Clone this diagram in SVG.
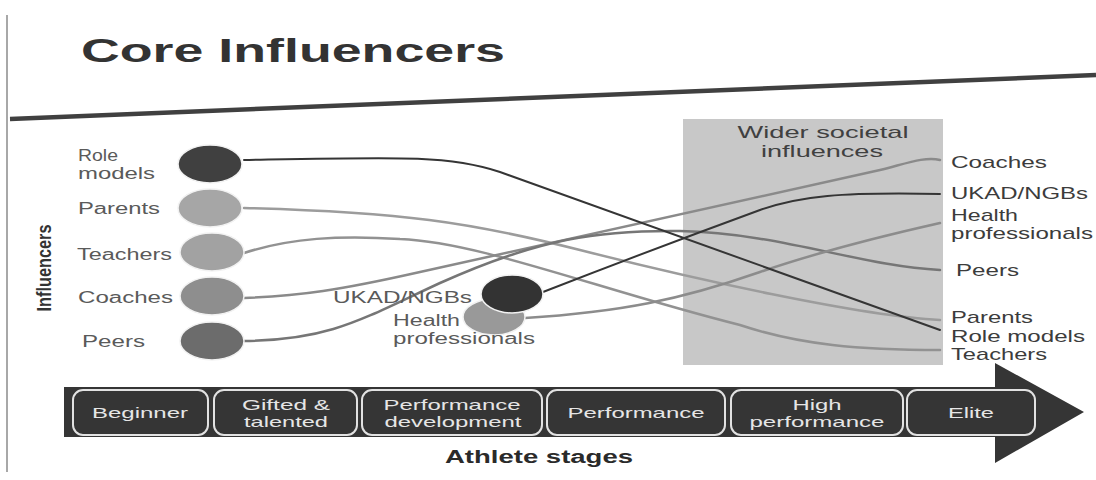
<svg xmlns="http://www.w3.org/2000/svg" width="1096" height="480" viewBox="0 0 1096 480">
  <style>
    text { font-family: "Liberation Sans", Arial, sans-serif; }
    .lbl { font-size: 16px; fill: #5a5a5a; }
    .rlbl { font-size: 17px; fill: #3c3c3c; }
    .mid { font-size: 16px; fill: #5a5a5a; }
    .stage { font-size: 15px; fill: #e6e6e6; text-anchor: middle; }
    .stagebox { fill: #353535; stroke: #e2e2e2; stroke-width: 2; }
    .link { fill: none; stroke-width: 2.5; stroke-linecap: round; }
    .dark { stroke: #353535; stroke-width: 2; }
    .node { stroke: #f2f2f2; stroke-width: 1.5; }
  </style>

  <!-- page frame and header rule -->
  <line x1="7" y1="15" x2="7" y2="472" stroke="#a8a8a8" stroke-width="2"/>
  <text x="81" y="62" font-size="33" font-weight="bold" fill="#333" textLength="424" lengthAdjust="spacingAndGlyphs">Core Influencers</text>
  <line x1="10" y1="119" x2="1096" y2="75" stroke="#404040" stroke-width="4.5"/>

  <!-- wider societal influences panel -->
  <g id="wider-societal">
    <rect x="683" y="119" width="260" height="246" fill="#c8c8c8"/>
    <text x="823" y="138" font-size="17" fill="#404040" text-anchor="middle" textLength="171" lengthAdjust="spacingAndGlyphs">Wider societal</text>
    <text x="822" y="157" font-size="17" fill="#404040" text-anchor="middle" textLength="122" lengthAdjust="spacingAndGlyphs">influences</text>
  </g>

  <!-- axis label -->
  <text transform="translate(51,268) rotate(-90)" font-size="21" font-weight="bold" fill="#333" text-anchor="middle" textLength="87" lengthAdjust="spacingAndGlyphs">Influencers</text>

  <!-- connectors -->
  <g id="connectors">
    <path class="link" stroke="#9c9c9c" d="M244,208 C400,212 470,222 580,250 S860,316 940,320"/>
    <path class="link" stroke="#929292" d="M244,253 C290,238 340,235 400,239 C480,242 600,290 740,325 C800,345 860,350 940,350"/>
    <path class="link" stroke="#8a8a8a" d="M244,298 C300,296 340,290 420,272 L880,170 C905,164 925,156 940,160"/>
    <path class="link" stroke="#767676" d="M244,341 C330,340 360,320 440,283 C540,238 600,230 680,231 C780,233 860,266 940,270"/>
    <path class="link" stroke="#8c8c8c" d="M525,318 C620,312 680,300 760,272 C830,248 900,232 940,223"/>
    <path class="link dark" d="M244,160 C400,157 450,155 500,172 L940,330"/>
    <path class="link dark" d="M543,292 C620,262 700,232 760,210 C800,196 840,192 940,194"/>
  </g>

  <!-- core influencers (left) -->
  <g id="role-models">
    <ellipse class="node" cx="210" cy="164" rx="32" ry="19" fill="#404040"/>
    <text class="lbl" x="78" y="161" textLength="40" lengthAdjust="spacingAndGlyphs">Role</text>
    <text class="lbl" x="78" y="179" textLength="77" lengthAdjust="spacingAndGlyphs">models</text>
  </g>
  <g id="parents">
    <ellipse class="node" cx="210" cy="208" rx="32" ry="19" fill="#a6a6a6"/>
    <text class="lbl" x="78" y="214" textLength="82" lengthAdjust="spacingAndGlyphs">Parents</text>
  </g>
  <g id="teachers">
    <ellipse class="node" cx="212" cy="252" rx="32" ry="19" fill="#a2a2a2"/>
    <text class="lbl" x="77" y="260" textLength="95" lengthAdjust="spacingAndGlyphs">Teachers</text>
  </g>
  <g id="coaches">
    <ellipse class="node" cx="212" cy="296" rx="32" ry="19" fill="#8e8e8e"/>
    <text class="lbl" x="78" y="303" textLength="95" lengthAdjust="spacingAndGlyphs">Coaches</text>
  </g>
  <g id="peers">
    <ellipse class="node" cx="212" cy="341" rx="32" ry="19" fill="#6c6c6c"/>
    <text class="lbl" x="82" y="347" textLength="63" lengthAdjust="spacingAndGlyphs">Peers</text>
  </g>

  <!-- later-stage influencers (middle) -->
  <g id="ukad-ngbs">
    <text class="mid" x="333" y="303" textLength="139" lengthAdjust="spacingAndGlyphs">UKAD/NGBs</text>
  </g>
  <g id="health-professionals">
    <ellipse class="node" cx="494" cy="317" rx="31" ry="18" fill="#999999"/>
    <text class="mid" x="393" y="326" textLength="67" lengthAdjust="spacingAndGlyphs">Health</text>
    <text class="mid" x="393" y="344" textLength="142" lengthAdjust="spacingAndGlyphs">professionals</text>
  </g>
  <ellipse class="node" cx="512" cy="294" rx="31" ry="19" fill="#333333"/>

  <!-- influence ranking at elite level (right) -->
  <g id="right-labels">
    <text class="rlbl" x="951" y="168" textLength="96" lengthAdjust="spacingAndGlyphs">Coaches</text>
    <text class="rlbl" x="951" y="199" textLength="137" lengthAdjust="spacingAndGlyphs">UKAD/NGBs</text>
    <text class="rlbl" x="951" y="221" textLength="67" lengthAdjust="spacingAndGlyphs">Health</text>
    <text class="rlbl" x="951" y="239" textLength="142" lengthAdjust="spacingAndGlyphs">professionals</text>
    <text class="rlbl" x="956" y="276" textLength="63" lengthAdjust="spacingAndGlyphs">Peers</text>
    <text class="rlbl" x="951" y="323" textLength="82" lengthAdjust="spacingAndGlyphs">Parents</text>
    <text class="rlbl" x="951" y="342" textLength="134" lengthAdjust="spacingAndGlyphs">Role models</text>
    <text class="rlbl" x="951" y="360" textLength="96" lengthAdjust="spacingAndGlyphs">Teachers</text>
  </g>

  <!-- athlete stages arrow -->
  <g id="stages-arrow">
    <path d="M64,387 H995 V363 L1084,412 L995,463 V437 H64 Z" fill="#353535"/>
  </g>
  <g id="stage-beginner">
    <rect class="stagebox" x="73" y="390" width="135" height="45" rx="10"/>
    <text class="stage" x="140" y="418" textLength="96" lengthAdjust="spacingAndGlyphs">Beginner</text>
  </g>
  <g id="stage-gifted">
    <rect class="stagebox" x="214" y="390" width="143" height="45" rx="10"/>
    <text class="stage" x="286" y="410" textLength="88" lengthAdjust="spacingAndGlyphs">Gifted &amp;</text>
    <text class="stage" x="286" y="427" textLength="84" lengthAdjust="spacingAndGlyphs">talented</text>
  </g>
  <g id="stage-perf-dev">
    <rect class="stagebox" x="362" y="390" width="180" height="45" rx="10"/>
    <text class="stage" x="452" y="410" textLength="137" lengthAdjust="spacingAndGlyphs">Performance</text>
    <text class="stage" x="453" y="427" textLength="137" lengthAdjust="spacingAndGlyphs">development</text>
  </g>
  <g id="stage-performance">
    <rect class="stagebox" x="547" y="390" width="178" height="45" rx="10"/>
    <text class="stage" x="636" y="418" textLength="137" lengthAdjust="spacingAndGlyphs">Performance</text>
  </g>
  <g id="stage-high">
    <rect class="stagebox" x="731" y="390" width="172" height="45" rx="10"/>
    <text class="stage" x="817" y="410" textLength="49" lengthAdjust="spacingAndGlyphs">High</text>
    <text class="stage" x="817" y="427" textLength="135" lengthAdjust="spacingAndGlyphs">performance</text>
  </g>
  <g id="stage-elite">
    <rect class="stagebox" x="907" y="390" width="128" height="45" rx="10"/>
    <text class="stage" x="971" y="418" textLength="46" lengthAdjust="spacingAndGlyphs">Elite</text>
  </g>

  <text x="539" y="463" font-size="18" font-weight="bold" fill="#2a2a2a" text-anchor="middle" textLength="188" lengthAdjust="spacingAndGlyphs">Athlete stages</text>
</svg>
